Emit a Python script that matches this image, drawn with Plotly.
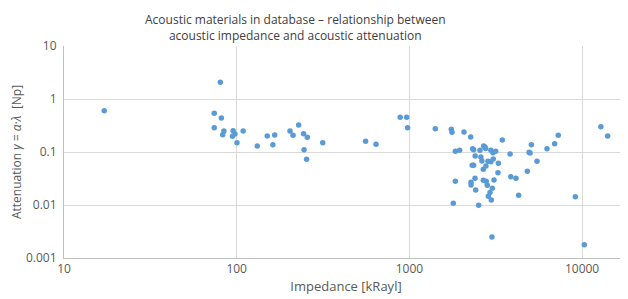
import plotly.graph_objects as go

# Impedance [kRayl] and attenuation [Np]
impedance = [
    17.1, 80.4, 74.1, 81.5, 74.1, 84.3, 83.0, 95.3, 97.7, 94.5, 100.4, 109,
    131.5, 150.3, 166, 162, 203.6, 212, 228.5, 244, 256.5, 245.5, 254, 315,
    558, 641, 885, 964, 977, 1413, 1749, 1766, 2071, 2264, 3451,
    1846, 1955, 2323, 2355, 2563, 2692, 2740, 2765, 2966, 3046, 3160, 3830,
    4933, 5000, 5086, 6265, 6937, 7280, 12850, 14060,
    2404, 2594, 2630, 2851, 3060, 2966, 3275, 2312, 2355, 2775, 2680, 3258,
    5484, 4821, 3864, 4142, 1846, 2399, 2275, 2275, 2680, 2786, 3090, 2825,
    3020, 2421, 2930, 2866, 2980, 4292, 1796, 2519, 9140, 3006, 10300,
]
attenuation = [
    0.60, 2.07, 0.537, 0.438, 0.288, 0.249, 0.212, 0.252, 0.219, 0.198, 0.150, 0.249,
    0.130, 0.200, 0.209, 0.137, 0.249, 0.206, 0.323, 0.221, 0.189, 0.110, 0.0728, 0.150,
    0.159, 0.140, 0.452, 0.452, 0.288, 0.275, 0.268, 0.235, 0.239, 0.192, 0.168,
    0.103, 0.108, 0.115, 0.110, 0.108, 0.130, 0.124, 0.117, 0.108, 0.0973, 0.103, 0.0917,
    0.0987, 0.0955, 0.137, 0.115, 0.143, 0.206, 0.301, 0.200,
    0.0841, 0.0805, 0.0676, 0.0668, 0.0738, 0.0658, 0.0612, 0.0561, 0.0561, 0.0544, 0.0471, 0.0407,
    0.0668, 0.0432, 0.0342, 0.0319, 0.0280, 0.0319, 0.0268, 0.0238, 0.0292, 0.0280, 0.0296, 0.0235,
    0.0206, 0.0192, 0.0173, 0.0146, 0.0124, 0.0152, 0.0108, 0.00987, 0.0143, 0.00249, 0.00178,
]

x_ticks = [10, 100, 1000, 10000]
x_tick_labels = ["10", "100", "1000", "10000"]
y_ticks = [0.001, 0.01, 0.1, 1, 10]
y_tick_labels = ["0.001", "0.01", "0.1", "1", "10"]
title_lines = ["Acoustic materials in database – relationship between",
               "acoustic impedance and acoustic attenuation"]

FONT = "Open Sans"
GRID = "#d9d9d9"
AXIS = "#bfbfbf"
TXT = "#595959"

fig = go.Figure(go.Scatter(
    x=impedance, y=attenuation, mode="markers",
    marker=dict(color="#5b9bd5", size=5.5, line=dict(width=0)),
    showlegend=False,
))

# the page body adds an 8px offset, so the figure is 8px smaller than the window
fig.update_layout(
    width=620, height=291,
    margin=dict(l=56, r=0, t=38, b=41),
    paper_bgcolor="white", plot_bgcolor="white",
    font=dict(family=FONT, color=TXT, size=12),
    annotations=[
        dict(text="<br>".join(title_lines), xref="paper", yref="paper",
             x=0.41, y=1.168, xanchor="center", yanchor="top",
             showarrow=False, borderpad=0,
             font=dict(family=FONT, size=12, color="#404040")),
    ],
)
fig.update_xaxes(
    type="log", range=[1, 4.266],
    tickvals=x_ticks, ticktext=x_tick_labels,
    showgrid=True, gridcolor=GRID, gridwidth=1,
    showline=True, linecolor=AXIS, linewidth=1,
    ticks="", zeroline=False,
    tickfont=dict(size=12, color=TXT),
    title=dict(text="Impedance [kRayl]", standoff=4, font=dict(size=13, color=TXT)),
)
fig.update_yaxes(
    type="log", range=[-3, 1],
    tickvals=y_ticks, ticktext=y_tick_labels,
    showgrid=True, gridcolor=GRID, gridwidth=1,
    showline=True, linecolor=AXIS, linewidth=1,
    ticks="", zeroline=False, ticklabelstandoff=4,
    tickfont=dict(size=12, color=TXT),
    title=dict(text="Attenuation <i>γ</i> = <i>α</i>·<i>λ</i>  [Np]", standoff=4,
               font=dict(size=12, color=TXT)),
)

fig.write_html("out.html")
